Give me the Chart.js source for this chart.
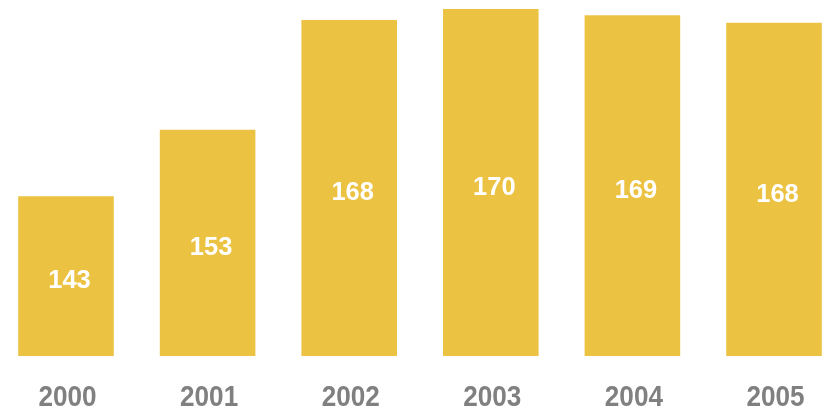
<!DOCTYPE html>
<html>
<head>
<meta charset="utf-8">
<script src="https://cdn.jsdelivr.net/npm/chart.js@4.4.0/dist/chart.umd.min.js"></script>
<style>
  html, body { margin: 0; padding: 0; background: #ffffff; }
  #wrap { width: 822px; height: 409px; position: relative; }
</style>
</head>
<body>
<div id="wrap"><canvas id="c" width="822" height="409"></canvas></div>
<script>
const categories = ["2000", "2001", "2002", "2003", "2004", "2005"];
const values = [143, 152.6, 168.4, 170, 169.1, 168];
const valueLabels = ["143", "153", "168", "170", "169", "168"];
const yMin = 120;
const yMax = 171;

const BAR_COLOR = "#ECC243";
const FONT_FAMILY = "'Liberation Sans', Arial, sans-serif";

function drawSquished(ctx, text, x, baselineY, size, sx) {
  ctx.save();
  ctx.translate(x, baselineY);
  ctx.scale(sx, 1);
  ctx.font = "bold " + size + "px " + FONT_FAMILY;
  ctx.textAlign = "center";
  ctx.textBaseline = "alphabetic";
  ctx.fillText(text, 0, 0);
  ctx.restore();
}

const customText = {
  id: "customText",
  afterDatasetsDraw(chart) {
    const ctx = chart.ctx;
    const meta = chart.getDatasetMeta(0);
    const xs = chart.scales.x;
    const area = chart.chartArea;
    ctx.save();
    ctx.fillStyle = "#ffffff";
    meta.data.forEach((bar, i) => {
      const cy = (bar.y + bar.base) / 2;
      drawSquished(ctx, valueLabels[i], bar.x + 3.5, cy + 3 + 0.358 * 26, 26, 0.98);
    });
    ctx.fillStyle = "#808080";
    categories.forEach((c, i) => {
      const x = xs.getPixelForTick(i);
      drawSquished(ctx, c, x + 1.5, area.bottom + 39 + 0.358 * 29.7, 29.7, 0.88);
    });
    ctx.restore();
  }
};

new Chart(document.getElementById("c"), {
  type: "bar",
  data: {
    labels: categories,
    datasets: [{
      data: values,
      base: yMin,
      backgroundColor: BAR_COLOR,
      borderWidth: 0,
      categoryPercentage: 1,
      barPercentage: 0.675,
      clip: false
    }]
  },
  options: {
    responsive: false,
    animation: false,
    devicePixelRatio: 1,
    layout: { padding: { left: 66, right: 48, top: 2, bottom: 0 } },
    plugins: { legend: { display: false }, tooltip: { enabled: false } },
    scales: {
      x: {
        offset: false,
        grid: { display: false, drawTicks: false },
        border: { display: false },
        ticks: { display: false },
        afterFit(scale) { scale.height = 53; }
      },
      y: {
        display: false,
        min: yMin,
        max: yMax
      }
    }
  },
  plugins: [customText]
});
</script>
</body>
</html>
